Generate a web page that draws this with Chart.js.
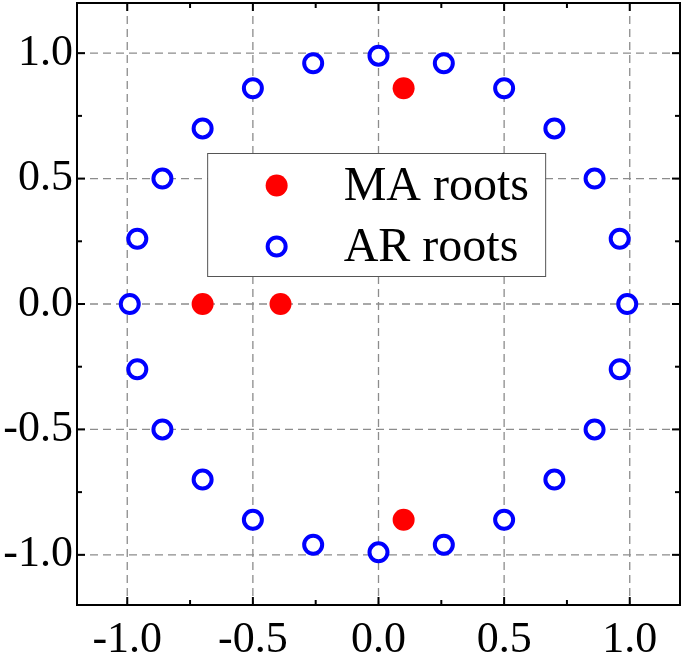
<!DOCTYPE html>
<html>
<head>
<meta charset="utf-8">
<script src="https://cdn.jsdelivr.net/npm/chart.js@4"></script>
<style>
  html, body { margin: 0; padding: 0; background: #fff; }
  #wrap { width: 685px; height: 657px; }
</style>
</head>
<body>
<div id="wrap"><canvas id="canvas"></canvas></div>
<script>
// values
const maRoots = [
  { x: 0.1, y: 0.86 },
  { x: 0.1, y: -0.86 },
  { x: -0.7, y: 0 },
  { x: -0.39, y: 0 },
];
const arRoots = [
  { x: 0.99, y: 0 }, { x: 0.96, y: 0.26 }, { x: 0.86, y: 0.5 }, { x: 0.7, y: 0.7 },
  { x: 0.5, y: 0.86 }, { x: 0.26, y: 0.96 }, { x: 0, y: 0.99 }, { x: -0.26, y: 0.96 },
  { x: -0.5, y: 0.86 }, { x: -0.7, y: 0.7 }, { x: -0.86, y: 0.5 }, { x: -0.96, y: 0.26 },
  { x: -0.99, y: 0 }, { x: -0.96, y: -0.26 }, { x: -0.86, y: -0.5 }, { x: -0.7, y: -0.7 },
  { x: -0.5, y: -0.86 }, { x: -0.26, y: -0.96 }, { x: 0, y: -0.99 }, { x: 0.26, y: -0.96 },
  { x: 0.5, y: -0.86 }, { x: 0.7, y: -0.7 }, { x: 0.86, y: -0.5 }, { x: 0.96, y: -0.26 },
];
const majorTicks = [-1.0, -0.5, 0.0, 0.5, 1.0];
const minorTicks = [-0.75, -0.25, 0.25, 0.75];
const legendLabels = ["MA roots", "AR roots"];

const FONT = "'Liberation Serif', 'Times New Roman', serif";

// dashed grid, inward ticks on all sides, frame, and the boxed legend
const framePlugin = {
  id: "frame",
  beforeDatasetsDraw(chart) {
    const ctx = chart.ctx;
    const a = chart.chartArea;
    const xs = chart.scales.x, ys = chart.scales.y;
    ctx.save();
    ctx.strokeStyle = "#8c8c8c";
    ctx.lineWidth = 1.3;
    ctx.setLineDash([8, 5]);
    majorTicks.forEach((v) => {
      const px = xs.getPixelForValue(v);
      ctx.beginPath(); ctx.moveTo(px, a.top); ctx.lineTo(px, a.bottom); ctx.stroke();
      const py = ys.getPixelForValue(v);
      ctx.beginPath(); ctx.moveTo(a.left, py); ctx.lineTo(a.right, py); ctx.stroke();
    });
    ctx.restore();
  },
  afterDatasetsDraw(chart) {
    const ctx = chart.ctx;
    const a = chart.chartArea;
    const xs = chart.scales.x, ys = chart.scales.y;
    ctx.save();
    ctx.strokeStyle = "#000";
    ctx.lineWidth = 2;
    const tick = (list, len) => {
      list.forEach((v) => {
        const px = xs.getPixelForValue(v);
        ctx.beginPath(); ctx.moveTo(px, a.bottom); ctx.lineTo(px, a.bottom - len); ctx.stroke();
        ctx.beginPath(); ctx.moveTo(px, a.top); ctx.lineTo(px, a.top + len); ctx.stroke();
        const py = ys.getPixelForValue(v);
        ctx.beginPath(); ctx.moveTo(a.left, py); ctx.lineTo(a.left + len, py); ctx.stroke();
        ctx.beginPath(); ctx.moveTo(a.right, py); ctx.lineTo(a.right - len, py); ctx.stroke();
      });
    };
    tick(majorTicks, 8);
    tick(minorTicks, 5);
    ctx.strokeRect(a.left, a.top, a.right - a.left, a.bottom - a.top);

    // legend box
    const bx = xs.getPixelForValue(-0.68), by = ys.getPixelForValue(0.6);
    const bw = 338, bh = 123;
    ctx.fillStyle = "#fff";
    ctx.fillRect(bx, by, bw, bh);
    ctx.strokeStyle = "#555";
    ctx.lineWidth = 1;
    ctx.strokeRect(bx, by, bw, bh);
    const ds = chart.data.datasets;
    legendLabels.forEach((lab, i) => {
      const cy = by + 32 + i * 61;
      const cx = bx + 69;
      ctx.beginPath();
      ctx.arc(cx, cy, i === 0 ? 11 : 9, 0, Math.PI * 2);
      if (i === 0) {
        ctx.fillStyle = ds[0].backgroundColor;
        ctx.fill();
      } else {
        ctx.fillStyle = "#fff";
        ctx.fill();
        ctx.strokeStyle = ds[1].borderColor;
        ctx.lineWidth = 4;
        ctx.stroke();
      }
      ctx.fillStyle = "#000";
      ctx.font = "48px " + FONT;
      ctx.textBaseline = "middle";
      ctx.fillText(lab, bx + 136, cy + 2);
    });
    ctx.restore();
  },
};

const zeroPad = (s) => {
  s.paddingTop = 0; s.paddingBottom = 0; s.paddingLeft = 0; s.paddingRight = 0;
};

new Chart(document.getElementById("canvas").getContext("2d"), {
  type: "scatter",
  data: {
    datasets: [
      {
        label: legendLabels[0],
        data: maRoots,
        pointRadius: 11,
        pointBackgroundColor: "#ff0000",
        backgroundColor: "#ff0000",
        borderWidth: 0,
        pointBorderWidth: 0,
      },
      {
        label: legendLabels[1],
        data: arRoots,
        pointRadius: 9,
        pointBackgroundColor: "#ffffff",
        backgroundColor: "#ffffff",
        pointBorderColor: "#0000ff",
        borderColor: "#0000ff",
        pointBorderWidth: 4,
      },
    ],
  },
  plugins: [framePlugin],
  options: {
    responsive: true,
    maintainAspectRatio: false,
    animation: false,
    layout: { autoPadding: false, padding: { left: 0, right: 5, top: 3, bottom: 0 } },
    plugins: { legend: { display: false }, tooltip: { enabled: false } },
    scales: {
      x: {
        type: "linear",
        min: -1.2,
        max: 1.2,
        grid: { display: false, drawTicks: false },
        border: { display: false },
        afterBuildTicks: (s) => { s.ticks = majorTicks.map((v) => ({ value: v })); },
        afterFit: (s) => { s.height = 52; zeroPad(s); },
        ticks: {
          color: "#000",
          padding: 9,
          font: { family: FONT, size: 44 },
          callback: (v) => Number(v).toFixed(1),
        },
      },
      y: {
        type: "linear",
        min: -1.2,
        max: 1.2,
        grid: { display: false, drawTicks: false },
        border: { display: false },
        afterBuildTicks: (s) => { s.ticks = majorTicks.map((v) => ({ value: v })); },
        afterFit: (s) => { s.width = 77; zeroPad(s); },
        ticks: {
          color: "#000",
          padding: 4,
          font: { family: FONT, size: 44 },
          callback: (v) => Number(v).toFixed(1),
        },
      },
    },
  },
});
</script>
</body>
</html>
